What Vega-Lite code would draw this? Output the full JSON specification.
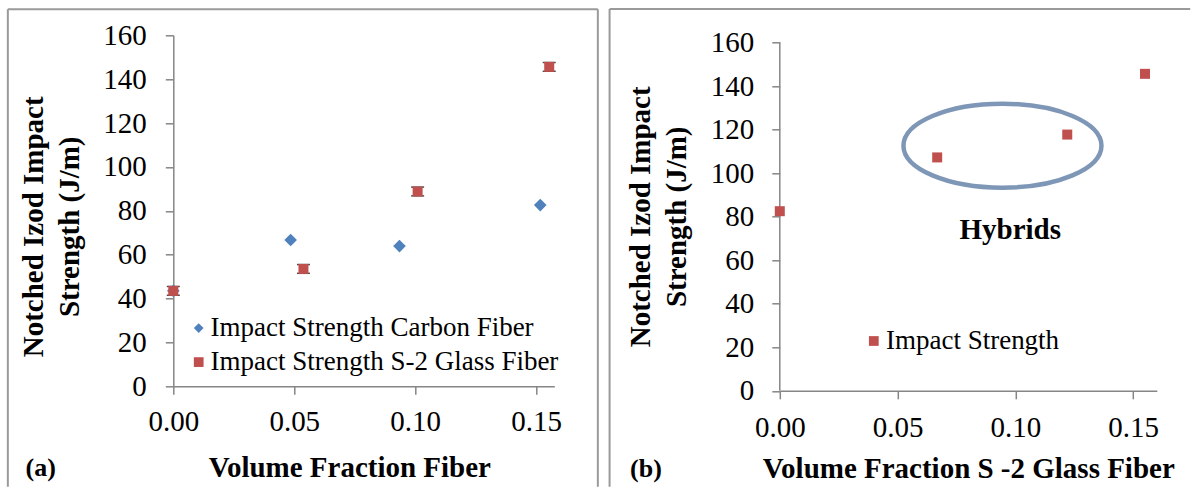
{
  "$schema": "https://vega.github.io/schema/vega-lite/v6.json",
  "background": "white",
  "padding": {"left": 6.3, "top": 7.3, "right": 0, "bottom": 0},
  "spacing": 8.5,
  "align": "none",
  "datasets": {
    "left": [
      {"vf": 0.0, "strength": 43.5, "series": "Impact Strength Carbon Fiber"},
      {"vf": 0.0485, "strength": 66.7, "series": "Impact Strength Carbon Fiber"},
      {"vf": 0.0935, "strength": 63.9, "series": "Impact Strength Carbon Fiber"},
      {"vf": 0.1517, "strength": 82.6, "series": "Impact Strength Carbon Fiber"},
      {"vf": 0.0, "strength": 43.5, "lo": 41.5, "hi": 45.5, "series": "Impact Strength S-2 Glass Fiber"},
      {"vf": 0.0538, "strength": 53.5, "lo": 51.5, "hi": 55.5, "series": "Impact Strength S-2 Glass Fiber"},
      {"vf": 0.101, "strength": 88.8, "lo": 86.8, "hi": 90.8, "series": "Impact Strength S-2 Glass Fiber"},
      {"vf": 0.1554, "strength": 145.6, "lo": 143.6, "hi": 147.6, "series": "Impact Strength S-2 Glass Fiber"}
    ],
    "right": [
      {"vf": 0.0, "strength": 82.5, "series": "Impact Strength"},
      {"vf": 0.0668, "strength": 107.2, "series": "Impact Strength"},
      {"vf": 0.122, "strength": 117.7, "series": "Impact Strength"},
      {"vf": 0.155, "strength": 145.6, "series": "Impact Strength"}
    ],
    "one": [{}]
  },
  "hconcat": [
    {
      "width": 381,
      "height": 351,
      "layer": [
        {
          "data": {"name": "one"},
          "mark": {"type": "rule", "color": "#9a9a9a", "strokeWidth": 2},
          "encoding": {
            "x": {"datum": -0.0684, "type": "quantitative", "scale": {"domain": [0, 0.1575], "nice": false, "zero": false}},
            "y": {"datum": 171.9, "type": "quantitative", "scale": {"domain": [0, 160], "nice": false}},
            "y2": {"datum": -45.8}
          }
        },
        {
          "data": {"name": "one"},
          "mark": {"type": "rule", "color": "#9a9a9a", "strokeWidth": 2},
          "encoding": {
            "x": {"datum": 0.1755, "type": "quantitative"},
            "y": {"datum": 171.9, "type": "quantitative"},
            "y2": {"datum": -45.8}
          }
        },
        {
          "data": {"name": "one"},
          "mark": {"type": "rule", "color": "#9a9a9a", "strokeWidth": 2},
          "encoding": {
            "x": {"datum": -0.0684, "type": "quantitative"},
            "x2": {"datum": 0.1755},
            "y": {"datum": 171.9, "type": "quantitative"}
          }
        },
        {
          "data": {"name": "left"},
          "transform": [{"filter": "isValid(datum.lo)"}],
          "mark": {"type": "rule", "color": "black", "strokeWidth": 1},
          "encoding": {
            "x": {"field": "vf", "type": "quantitative"},
            "y": {"field": "lo", "type": "quantitative"},
            "y2": {"field": "hi"}
          }
        },
        {
          "data": {"name": "left"},
          "transform": [{"filter": "isValid(datum.lo)"}],
          "mark": {"type": "tick", "orient": "horizontal", "size": 13, "thickness": 1.5, "color": "black"},
          "encoding": {
            "x": {"field": "vf", "type": "quantitative"},
            "y": {"field": "lo", "type": "quantitative"}
          }
        },
        {
          "data": {"name": "left"},
          "transform": [{"filter": "isValid(datum.lo)"}],
          "mark": {"type": "tick", "orient": "horizontal", "size": 13, "thickness": 1.5, "color": "black"},
          "encoding": {
            "x": {"field": "vf", "type": "quantitative"},
            "y": {"field": "hi", "type": "quantitative"}
          }
        },
        {
          "data": {"name": "left"},
          "transform": [{"filter": "datum.series === 'Impact Strength Carbon Fiber'"}],
          "mark": {"type": "point", "filled": true, "size": 160, "opacity": 1},
          "encoding": {
            "x": {
              "field": "vf", "type": "quantitative",
              "scale": {"domain": [0, 0.1575], "nice": false, "zero": false},
              "axis": {
                "values": [0, 0.05, 0.1, 0.15], "format": ".2f",
                "title": "Volume Fraction Fiber", "titleX": 176,
                "labelPadding": 13, "titlePadding": 17
              }
            },
            "y": {
              "field": "strength", "type": "quantitative",
              "scale": {"domain": [0, 160], "nice": false},
              "axis": {
                "values": [0, 20, 40, 60, 80, 100, 120, 140, 160], "format": "d",
                "title": ["Notched Izod Impact", "Strength (J/m)"],
                "titleLineHeight": 36, "titlePadding": 18, "titleY": 191,
                "labelPadding": 19
              }
            },
            "color": {
              "field": "series", "type": "nominal",
              "scale": {"domain": ["Impact Strength Carbon Fiber", "Impact Strength S-2 Glass Fiber"], "range": ["#4F81BD", "#C0504D"]},
              "legend": {"orient": "none", "legendX": 11.9, "legendY": 279.3, "title": null, "labelFont": "Liberation Serif", "labelFontSize": 27, "labelColor": "black", "labelLimit": 0, "symbolSize": 95, "rowPadding": 6, "labelOffset": -1.6, "padding": 0, "symbolStrokeWidth": 0}
            },
            "shape": {
              "field": "series", "type": "nominal",
              "scale": {"domain": ["Impact Strength Carbon Fiber", "Impact Strength S-2 Glass Fiber"], "range": ["diamond", "square"]},
              "legend": {"orient": "none", "legendX": 11.9, "legendY": 279.3, "title": null, "labelFont": "Liberation Serif", "labelFontSize": 27, "labelColor": "black", "labelLimit": 0, "symbolSize": 95, "rowPadding": 6, "labelOffset": -1.6, "padding": 0, "symbolStrokeWidth": 0}
            }
          }
        },
        {
          "data": {"name": "left"},
          "transform": [{"filter": "datum.series === 'Impact Strength S-2 Glass Fiber'"}],
          "mark": {"type": "point", "filled": true, "size": 100, "opacity": 1},
          "encoding": {
            "x": {"field": "vf", "type": "quantitative"},
            "y": {"field": "strength", "type": "quantitative"},
            "color": {"field": "series", "type": "nominal"},
            "shape": {"field": "series", "type": "nominal"}
          }
        },
        {
          "data": {"name": "one"},
          "mark": {"type": "text", "text": "(a)", "font": "Liberation Serif", "fontSize": 26, "fontWeight": "bold", "color": "black", "align": "center", "baseline": "middle"},
          "encoding": {
            "x": {"datum": -0.0548, "type": "quantitative"},
            "y": {"datum": -37.1, "type": "quantitative"}
          }
        }
      ]
    },
    {
      "width": 377,
      "height": 355.5,
      "layer": [
        {
          "data": {"name": "one"},
          "mark": {"type": "rule", "color": "#9a9a9a", "strokeWidth": 2},
          "encoding": {
            "x": {"datum": -0.07224, "type": "quantitative", "scale": {"domain": [0, 0.16], "nice": false, "zero": false}},
            "y": {"datum": 175.35, "type": "quantitative", "scale": {"domain": [0, 163.3], "nice": false}},
            "y2": {"datum": -44.1}
          }
        },
        {
          "data": {"name": "one"},
          "mark": {"type": "rule", "color": "#9a9a9a", "strokeWidth": 2},
          "encoding": {
            "x": {"datum": -0.07224, "type": "quantitative"},
            "x2": {"datum": 0.1742},
            "y": {"datum": 175.35, "type": "quantitative"}
          }
        },
        {
          "data": {"name": "one"},
          "mark": {"type": "rule", "color": "#868686", "strokeWidth": 1.5},
          "encoding": {
            "x": {"datum": 0, "type": "quantitative"},
            "y": {"datum": 0, "type": "quantitative"},
            "y2": {"datum": 160}
          }
        },
        {
          "data": {"name": "one"},
          "mark": {"type": "point", "shape": "M-1,0A1,0.424,0,1,0,1,0A1,0.424,0,1,0,-1,0Z", "size": 39204, "filled": false, "color": "#7F97B7", "strokeWidth": 4.5, "opacity": 1},
          "encoding": {
            "x": {"datum": 0.0945, "type": "quantitative"},
            "y": {"datum": 112.6, "type": "quantitative"}
          }
        },
        {
          "data": {"name": "right"},
          "mark": {"type": "point", "filled": true, "size": 100, "opacity": 1},
          "encoding": {
            "x": {
              "field": "vf", "type": "quantitative",
              "scale": {"domain": [0, 0.16], "nice": false, "zero": false},
              "axis": {
                "values": [0, 0.05, 0.1, 0.15], "format": ".2f",
                "title": "Volume Fraction S -2 Glass Fiber",
                "labelPadding": 15, "titlePadding": 12
              }
            },
            "y": {
              "field": "strength", "type": "quantitative",
              "scale": {"domain": [0, 163.3], "nice": false},
              "axis": {
                "values": [0, 20, 40, 60, 80, 100, 120, 140, 160], "format": "d",
                "domain": false,
                "title": ["Notched Izod Impact", "Strength (J/m)"],
                "titleLineHeight": 36, "titlePadding": 19, "titleY": 181,
                "labelPadding": 18
              }
            },
            "color": {
              "field": "series", "type": "nominal",
              "scale": {"domain": ["Impact Strength"], "range": ["#C0504D"]},
              "legend": {"orient": "none", "legendX": 80.5, "legendY": 292.2, "title": null, "labelFont": "Liberation Serif", "labelFontSize": 27, "labelColor": "black", "labelLimit": 0, "symbolSize": 95, "labelOffset": -1.3, "padding": 0, "symbolStrokeWidth": 0}
            },
            "shape": {
              "field": "series", "type": "nominal",
              "scale": {"domain": ["Impact Strength"], "range": ["square"]},
              "legend": {"orient": "none", "legendX": 80.5, "legendY": 292.2, "title": null, "labelFont": "Liberation Serif", "labelFontSize": 27, "labelColor": "black", "labelLimit": 0, "symbolSize": 95, "labelOffset": -1.3, "padding": 0, "symbolStrokeWidth": 0}
            }
          }
        },
        {
          "data": {"name": "one"},
          "mark": {"type": "text", "text": "Hybrids", "font": "Liberation Serif", "fontSize": 29, "fontWeight": "bold", "color": "black", "align": "center", "baseline": "middle"},
          "encoding": {
            "x": {"datum": 0.0978, "type": "quantitative"},
            "y": {"datum": 74, "type": "quantitative"}
          }
        },
        {
          "data": {"name": "one"},
          "mark": {"type": "text", "text": "(b)", "font": "Liberation Serif", "fontSize": 26, "fontWeight": "bold", "color": "black", "align": "center", "baseline": "middle"},
          "encoding": {
            "x": {"datum": -0.0568, "type": "quantitative"},
            "y": {"datum": -35.9, "type": "quantitative"}
          }
        }
      ]
    }
  ],
  "resolve": {
    "scale": {"color": "independent", "shape": "independent", "x": "independent", "y": "independent"},
    "legend": {"color": "independent", "shape": "independent"}
  },
  "config": {
    "view": {"stroke": null},
    "font": "Liberation Serif",
    "axis": {
      "grid": false, "labelFlush": false,
      "domainColor": "#868686", "tickColor": "#868686",
      "domainWidth": 1.5, "tickWidth": 1.5, "tickSize": 8,
      "labelFont": "Liberation Serif", "labelFontSize": 29, "labelColor": "black",
      "titleFont": "Liberation Serif", "titleFontSize": 29, "titleFontWeight": "bold", "titleColor": "black"
    }
  }
}
